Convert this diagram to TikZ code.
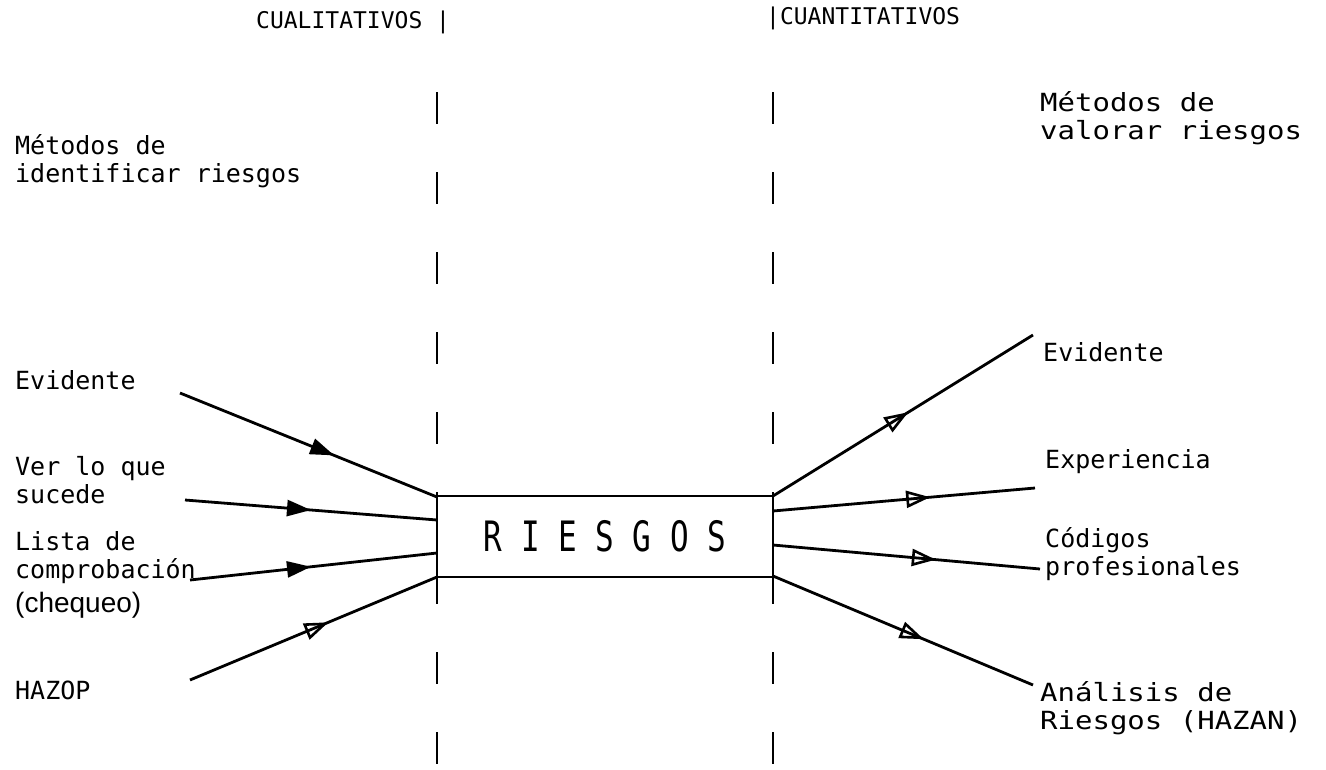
\documentclass[tikz,border=0pt]{standalone}
\usepackage{fontspec}
\setmainfont{DejaVu Sans Mono}
\newfontfamily\handfont{Liberation Sans}
\usetikzlibrary{arrows.meta,decorations.markings}
\newcommand{\widetext}[1]{\scalebox{1.16}[1]{\begin{tabular}{@{}l@{}}#1\end{tabular}}}
\begin{document}
\begin{tikzpicture}[x=1pt,y=-1pt,
  lbl/.style={anchor=west,inner sep=0pt,font=\fontsize{25}{28}\selectfont,align=left},
  head/.style={anchor=west,inner sep=0pt,font=\fontsize{23}{26}\selectfont},
  conn/.style={line width=2.8pt},
  divider/.style={line width=1.8pt,dash pattern=on 32pt off 48pt},
  fmark/.style={postaction={decorate},decoration={markings,mark=at position #1 with {\arrow{Triangle[length=24pt,width=16pt]}}}},
  omark/.style={postaction={decorate},decoration={markings,mark=at position #1 with {\arrow{Triangle[open,length=24pt,width=17pt,line width=2.6pt]}}}},
  boxstyle/.style={draw,line width=2.8pt,minimum width=336pt,minimum height=81pt,inner sep=0pt}
]
\useasboundingbox (0,0) rectangle (1326,769);

% headings
\node[head] (cual) at (256,22) {CUALITATIVOS |};
\node[head] (cuan) at (766,18) {|CUANTITATIVOS};

% dividers
\coordinate (dl1) at (437,92);
\coordinate (dl2) at (437,769);
\coordinate (dr1) at (773,92);
\coordinate (dr2) at (773,769);
\draw[divider] (dl1) -- (dl2);
\draw[divider] (dr1) -- (dr2);

% central box
\node[boxstyle] (box) at (605,536.5) {\scalebox{1}[1.35]{\fontsize{31}{31}\selectfont R I E S G O S}};

% left labels
\node[lbl] (mid) at (15,161) {Métodos de\\identificar riesgos};
\node[lbl] (ev) at (15,380) {Evidente};
\node[lbl] (ver) at (15,480) {Ver lo que\\sucede};
\node[lbl] (lista) at (15,558) {Lista de\\comprobación};
\node[lbl,font=\handfont\fontsize{28}{28}\selectfont] (cheq) at (15,605) {(chequeo)};
\node[lbl] (hazop) at (15,690) {HAZOP};

% right labels
\node[lbl] (mva) at (1040,120) {\widetext{Métodos de\\valorar riesgos}};
\node[lbl] (rev) at (1043,352) {Evidente};
\node[lbl] (exp) at (1045,462) {Experiencia};
\node[lbl] (cod) at (1045,554) {Códigos\\profesionales};
\node[lbl] (hazan) at (1040,710) {\widetext{Análisis de\\Riesgos (HAZAN)}};

% connector end points
\coordinate (a1) at (180,393);
\coordinate (a2) at (185,500);
\coordinate (a3) at (190,580);
\coordinate (a4) at (190,680);
\coordinate (b1) at (437,497);
\coordinate (b2) at (437,520);
\coordinate (b3) at (437,553);
\coordinate (b4) at (437,577);
\coordinate (c1) at (773,496);
\coordinate (c2) at (773,511);
\coordinate (c3) at (773,545);
\coordinate (c4) at (773,576);
\coordinate (d1) at (1033,335);
\coordinate (d2) at (1035,488);
\coordinate (d3) at (1040,569);
\coordinate (d4) at (1033,685);

\draw[conn,fmark=0.6] (a1) -- (b1);
\draw[conn,fmark=0.5] (a2) -- (b2);
\draw[conn,fmark=0.49] (a3) -- (b3);
\draw[conn,omark=0.56] (a4) -- (b4);
\draw[conn,omark=0.52] (c1) -- (d1);
\draw[conn,omark=0.6] (c2) -- (d2);
\draw[conn,omark=0.61] (c3) -- (d3);
\draw[conn,omark=0.58] (c4) -- (d4);
\end{tikzpicture}
\end{document}
